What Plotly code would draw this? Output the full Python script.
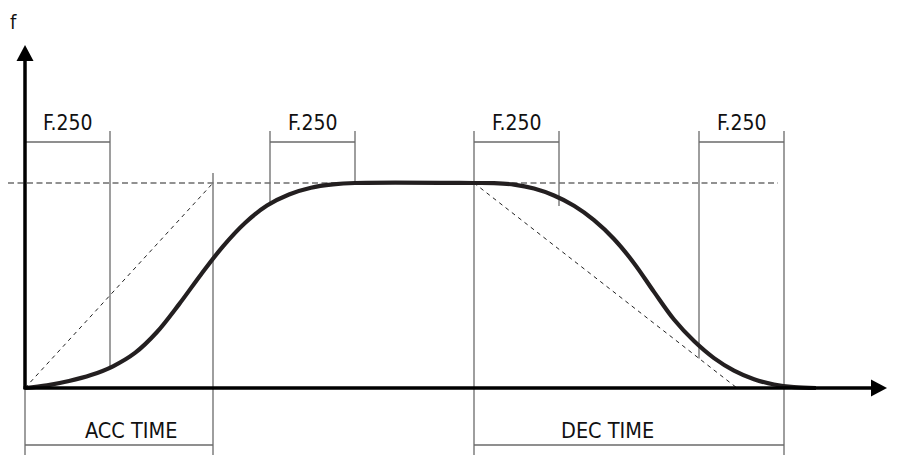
import numpy as np
import plotly.graph_objects as go

# Time axis: 1 unit per screen pixel, origin at the f axis.
# Frequency axis: percent of the set frequency (100 = f max).

# S-curve acceleration samples (time, frequency %)
acc_t = [0, 22, 44, 66, 88, 110, 132, 154, 176, 198, 220, 242, 264, 286, 308, 330]
acc_f = [0, 1.3, 3.4, 6.3, 10.6, 17.1, 27.3, 40.8, 55.4, 69.1, 80.5, 89.0, 94.4, 97.7, 99.3, 100]

# S-curve deceleration samples (time, frequency %)
dec_t = [449, 469, 489, 509, 529, 549, 569, 589, 609, 629, 649, 669, 689, 709, 729, 749, 769, 791]
dec_f = [100, 99.9, 99.2, 97.3, 93.9, 88.9, 81.9, 72.7, 60.9, 46.9, 33.4, 22.9, 14.6, 8.5, 4.3, 1.7, 0.4, 0]

F_MAX = 100
JERK = 85            # F.250 S-curve time
ACC_TIME = 188
ACC_END = 330        # acceleration finished (ACC_TIME + F.250 spread)
DEC_START = 449
DEC_TIME = 310
DEC_RAMP_END = 712   # linear deceleration reaches zero

f250_label = "F.250"
acc_label = "ACC TIME"
dec_label = "DEC TIME"
axis_label = "f"

# figure frame in axis units
X0, X1 = -25, 874
Y0, Y1 = -32.68, 189.27
PX_Y = (Y1 - Y0) / 455.0   # frequency units per pixel

curve_t = acc_t + dec_t
curve_f = acc_f + dec_f


def f_at(t):
    return float(np.interp(t, curve_t, curve_f))


def ramp_down(t):
    return F_MAX * (1 - (t - DEC_START) / (DEC_RAMP_END - DEC_START))


GUIDE = dict(color="#6a6a6a", width=1.3)
FONT = dict(family="DejaVu Sans Condensed, Liberation Sans Narrow, sans-serif",
            size=21, color="#111111")
FONT_TIME = dict(FONT, size=21.5)

shapes = []


def seg(x0, y0, x1, y1, line):
    shapes.append(dict(type="line", xref="x", yref="y", x0=x0, y0=y0, x1=x1, y1=y1,
                       line=line, layer="below"))


bracket_y = 120.0
tick_top = 125.4
label_y = 129.3
bottom = Y0
time_bracket_y = -27.8
time_label_y = -20.7

# F.250 brackets
f250_spans = [(0, JERK), (ACC_END - JERK, ACC_END),
              (DEC_START, DEC_START + JERK), (DEC_START + DEC_TIME - JERK, DEC_START + DEC_TIME)]
for a, b in f250_spans:
    seg(a, bracket_y, b, bracket_y, GUIDE)

# verticals of the F.250 brackets that drop onto the curve
for t in [JERK, ACC_END - JERK, ACC_END]:
    seg(t, tick_top, t, f_at(t), GUIDE)
t3 = DEC_START + JERK
seg(t3, tick_top, t3, f_at(t3) - 8 * PX_Y, GUIDE)
# right-side deceleration guide drops onto the linear ramp
t4 = DEC_START + DEC_TIME - JERK
seg(t4, tick_top, t4, ramp_down(t4), GUIDE)

# ACC TIME bracket
seg(ACC_TIME, F_MAX + 4.9, ACC_TIME, bottom, GUIDE)
seg(0, 0, 0, bottom, GUIDE)
seg(0, time_bracket_y, ACC_TIME, time_bracket_y, GUIDE)

# DEC TIME bracket
seg(DEC_START, tick_top, DEC_START, bottom, GUIDE)
seg(DEC_START + DEC_TIME, tick_top, DEC_START + DEC_TIME, bottom, GUIDE)
seg(DEC_START, time_bracket_y, DEC_START + DEC_TIME, time_bracket_y, GUIDE)

# set-frequency reference line
seg(-17, F_MAX, 753, F_MAX, dict(color="#6e6e6e", width=1.5, dash="6px,3.5px"))

# linear ramps
ramp = dict(color="#222222", width=1.0, dash="4px,4px")
seg(0, 0, ACC_TIME, F_MAX, ramp)
seg(DEC_START, F_MAX, DEC_RAMP_END, 0, ramp)

# axes with arrowheads
AX = dict(color="#000000", width=3.5)
shapes.append(dict(type="line", xref="x", yref="y", x0=-1.5, y0=0, x1=848, y1=0, line=AX))
shapes.append(dict(type="line", xref="x", yref="y", x0=0, y0=-1.0 * PX_Y, x1=0, y1=161, line=AX))
hw = 8.5 * PX_Y
shapes.append(dict(type="path", xref="x", yref="y",
                   path=f"M 846,{hw} L 862,0 L 846,{-hw} Z",
                   fillcolor="#000000", line=dict(width=0)))
shapes.append(dict(type="path", xref="x", yref="y",
                   path=f"M -8.5,159.5 L 0,167.3 L 8.5,159.5 Z",
                   fillcolor="#000000", line=dict(width=0)))

fig = go.Figure()
fig.add_trace(go.Scatter(
    x=curve_t, y=curve_f, mode="lines",
    line=dict(color="#231f20", width=4.2, shape="spline", smoothing=1.0),
    hoverinfo="skip", showlegend=False,
))

annotations = []
for a, b in f250_spans:
    annotations.append(dict(x=(a + b) / 2, y=label_y, text=f250_label, font=FONT))
annotations.append(dict(x=106, y=time_label_y, text=acc_label, font=FONT_TIME))
annotations.append(dict(x=582, y=time_label_y, text=dec_label, font=FONT_TIME))
annotations.append(dict(x=-12, y=178.5, text=axis_label,
                        font=dict(family="DejaVu Sans Condensed, sans-serif", size=20, color="#111111")))
for a in annotations:
    a.update(xref="x", yref="y", showarrow=False, xanchor="center", yanchor="middle")

fig.update_layout(
    width=899, height=455,
    margin=dict(l=0, r=0, t=0, b=0),
    paper_bgcolor="white", plot_bgcolor="white",
    xaxis=dict(range=[X0, X1], visible=False, fixedrange=True),
    yaxis=dict(range=[Y0, Y1], visible=False, fixedrange=True),
    shapes=shapes, annotations=annotations,
)

fig.write_html("out.html")
